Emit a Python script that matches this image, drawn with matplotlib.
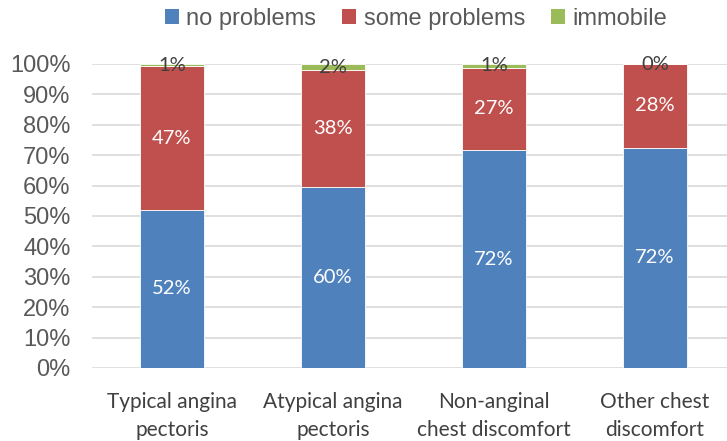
import numpy as np
import matplotlib
matplotlib.use("Agg")
import matplotlib.pyplot as plt
from matplotlib.patches import Patch

# data (percent of patients per symptom group)
categories = ["Typical angina\npectoris", "Atypical angina\npectoris",
              "Non-anginal\nchest discomfort", "Other chest\ndiscomfort"]
no_problems = [52.0, 59.6, 71.7, 72.4]
some_problems = [47.3, 38.4, 27.1, 27.6]
immobile = [0.7, 2.0, 1.2, 0.0]
series_names = ["no problems", "some problems", "immobile"]

colors = ["#4f81bd", "#c0504d", "#9bbb59"]
grey = "#595959"

fig = plt.figure(figsize=(7.27, 4.41), dpi=100)
ax = fig.add_axes([91.5 / 727, 1 - 368 / 441, 644 / 727, 304 / 441])

x = np.arange(len(categories))
data = [np.array(no_problems), np.array(some_problems), np.array(immobile)]
total = data[0] + data[1] + data[2]
bottom = np.zeros(len(categories))
for i, vals in enumerate(data):
	frac = vals / total
	ax.bar(x, frac, 0.4, bottom=bottom, color=colors[i], edgecolor="white", linewidth=0.6, zorder=3)
	for j in range(len(x)):
		txt = "%d%%" % int(round(vals[j]))
		ypos = bottom[j] + frac[j] / 2
		if i == 2:
			ax.text(x[j], ypos, txt, ha="center", va="center", color="#404040",
			        fontsize=14.5, family="Lato", zorder=4)
		else:
			ax.text(x[j], ypos, txt, ha="center", va="center", color="white",
			        fontsize=14.5, family="Lato", zorder=4)
	bottom = bottom + frac

ax.set_xlim(-0.5, 3.5)
ax.set_ylim(0, 1)
ax.set_yticks(np.arange(0, 1.01, 0.1))
ax.set_yticklabels(["%d%%" % v for v in range(0, 101, 10)], fontsize=17, color=grey, family="Liberation Sans")
ax.set_xticks(x)
ax.set_xticklabels(categories, fontsize=15, color="#404040", family="Lato", linespacing=1.55)
ax.tick_params(axis="both", length=0)
ax.tick_params(axis="y", pad=15)
ax.tick_params(axis="x", pad=17)
ax.grid(axis="y", color="#d9d9d9", linewidth=1.2, zorder=0)
for s in ax.spines.values():
	s.set_visible(False)

handles = [Patch(facecolor=c) for c in colors]
fig.legend(handles, series_names, loc="center", bbox_to_anchor=(416 / 727, 1 - 19 / 441), ncol=3,
           frameon=False, prop={"family": "Liberation Sans", "size": 17}, labelcolor=grey,
           handlelength=0.6, handleheight=0.6, handletextpad=0.3, columnspacing=1.1)

fig.savefig("out.png", dpi=100)
